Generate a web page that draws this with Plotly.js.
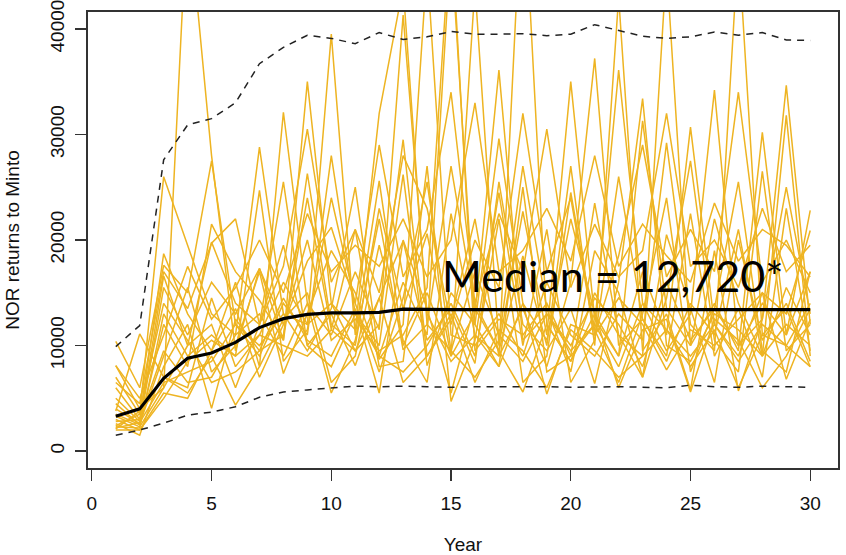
<!DOCTYPE html>
<html>
<head>
<meta charset="utf-8">
<script src="https://cdn.plot.ly/plotly-3.0.1.min.js"></script>
<style>html,body{margin:0;padding:0;background:#fff;}#chart{width:846px;height:555px;}</style>
</head>
<body>
<div id="chart"></div>
<script>
// Years 1..30
const years = Array.from({length: 30}, (_, i) => i + 1);

// Simulated NOR returns (approximate)
const sim01 = [10400, 6000, 17600, 15000, 27500, 12000, 9000, 14000, 11000, 28000, 13000, 9000, 16000, 11000, 48000, 12000, 8000, 14000, 10500, 22000, 13000, 9000, 17000, 11000, 30700, 12000, 9000, 15000, 13000, 20900];
const sim02 = [8100, 4000, 6000, 52000, 28000, 9500, 17300, 10500, 35000, 14000, 9500, 12000, 29500, 9000, 12500, 22000, 9000, 13500, 8000, 16000, 37200, 10000, 12500, 8500, 14000, 11000, 21000, 9000, 12000, 10000];
const sim03 = [7000, 3500, 26000, 19500, 13000, 11000, 28800, 13000, 12000, 39500, 11000, 25600, 10000, 15000, 9000, 13000, 36100, 10500, 13000, 9500, 12000, 36100, 14000, 9500, 13000, 34200, 10000, 12500, 34650, 12000];
const sim04 = [6000, 3000, 18700, 13000, 9500, 16000, 8000, 32100, 14000, 11000, 17000, 11500, 41300, 13000, 8500, 11000, 9000, 55000, 12000, 8500, 15000, 11000, 9000, 46000, 10000, 14000, 9500, 30200, 11000, 22800];
const sim05 = [5000, 2800, 16600, 10000, 19800, 14000, 12000, 19500, 10000, 13000, 8100, 14500, 19900, 10500, 13500, 8300, 25500, 12000, 9500, 13500, 6400, 16000, 33400, 10000, 8500, 13000, 11500, 9000, 31800, 9000];
const sim06 = [4500, 2500, 12000, 8000, 21500, 17000, 14300, 10500, 26300, 12000, 10000, 23000, 13500, 20600, 9000, 44000, 10000, 22700, 11000, 35000, 12500, 9000, 31300, 13500, 10000, 22000, 14000, 9000, 15500, 11000];
const sim07 = [4000, 2600, 9000, 15500, 7500, 10000, 17000, 7350, 13000, 19000, 15000, 8700, 12000, 46000, 11000, 10000, 13000, 9000, 16000, 11000, 9000, 13000, 10500, 29200, 12000, 9500, 48000, 11000, 13500, 8000];
const sim08 = [3800, 11100, 7000, 6000, 14500, 8000, 11000, 16000, 12000, 14000, 11500, 32000, 44000, 12000, 9500, 17000, 11000, 8500, 13000, 10000, 14500, 12000, 8000, 16000, 10500, 13500, 10000, 14000, 11000, 17000];
const sim09 = [3300, 2300, 6000, 10000, 12000, 6000, 12000, 25500, 10000, 8000, 13000, 10000, 26200, 8100, 15000, 12000, 29600, 14000, 5400, 12000, 11000, 14500, 12000, 7700, 11500, 10000, 12500, 15000, 6800, 12500];
const sim10 = [3000, 2000, 5500, 5000, 9500, 13500, 7000, 12000, 20000, 10500, 12500, 9500, 11000, 15500, 50000, 9500, 12500, 11000, 14000, 9000, 12000, 8000, 14000, 11500, 9000, 12000, 8500, 12000, 10000, 14000];
const sim11 = [2800, 3000, 9500, 6500, 7000, 11000, 13000, 9000, 14000, 5500, 10500, 22000, 9600, 12000, 27000, 13500, 9500, 18500, 10000, 27000, 10000, 43000, 9500, 13000, 5800, 19000, 5700, 12500, 25000, 13000];
const sim12 = [2600, 1500, 8000, 12000, 4050, 12500, 9500, 11000, 24000, 11500, 21000, 8000, 8500, 27000, 4700, 10500, 24500, 10000, 21000, 6500, 10500, 26000, 12500, 9000, 22500, 9000, 13500, 7000, 23000, 9500];
const sim13 = [2400, 3500, 7000, 5500, 9000, 4350, 8000, 12500, 15000, 6500, 9000, 19500, 10500, 6500, 22500, 11000, 8000, 25000, 7500, 9000, 23500, 11000, 7000, 14500, 27500, 10500, 7500, 26500, 9500, 12000];
const sim14 = [2300, 2200, 13000, 9000, 11000, 9000, 24700, 8500, 11500, 24000, 14000, 7500, 14500, 25500, 9500, 7000, 10500, 27000, 13500, 7500, 19000, 15000, 7000, 20500, 13500, 6500, 20000, 10500, 14000, 8500];
const sim15 = [2200, 2700, 6500, 7500, 8500, 12000, 10000, 13000, 9500, 13500, 25000, 9000, 7500, 10000, 14000, 9000, 22000, 6500, 9000, 24500, 11500, 6500, 13000, 24000, 7500, 13500, 25500, 9500, 7500, 17000];
const sim16 = [2100, 3800, 14000, 10500, 6500, 7500, 9500, 14500, 10500, 9000, 13500, 5500, 20000, 13500, 5500, 14000, 9500, 5600, 12000, 8500, 13000, 6000, 11500, 12500, 5600, 12500, 10500, 6000, 9000, 13500];
const sim17 = [2000, 2000, 5000, 8500, 10500, 9000, 11000, 10000, 9000, 11500, 9500, 14500, 6500, 9000, 13000, 6500, 11500, 9500, 6000, 11500, 9500, 7000, 9000, 11500, 8000, 11500, 6000, 11000, 10000, 8000];
const sim18 = [6500, 4500, 17000, 13500, 19700, 22000, 12000, 17500, 30500, 16000, 21000, 15000, 28000, 23000, 12000, 20000, 15500, 32000, 17000, 24000, 11000, 18500, 29000, 16500, 21000, 17000, 34000, 16000, 20000, 15000];
const sim19 = [3500, 2500, 15500, 11000, 16000, 13000, 17300, 12000, 18000, 21200, 14000, 29000, 16500, 21000, 34000, 14000, 22500, 17000, 30500, 15500, 21500, 16500, 19000, 32000, 17500, 20000, 15500, 23000, 17000, 19500];
const sim20 = [8100, 5000, 11000, 17500, 12500, 15500, 20000, 15000, 22500, 17000, 19500, 17500, 22000, 16500, 20000, 33000, 17000, 19000, 23000, 18000, 28000, 17500, 21500, 18500, 16000, 23500, 18000, 21000, 19500, 16500];

// Summary lines
const median = [3300, 4000, 6900, 8800, 9300, 10300, 11700, 12550, 12950, 13100, 13100, 13150, 13450, 13400, 13400, 13400, 13400, 13400, 13400, 13400, 13400, 13400, 13400, 13400, 13400, 13400, 13400, 13400, 13400, 13400];
const upper = [9900, 11900, 27600, 30900, 31500, 33000, 36700, 38250, 39400, 39100, 38600, 39650, 39000, 39250, 39750, 39500, 39500, 39550, 39350, 39500, 40400, 39850, 39300, 39100, 39250, 39700, 39400, 39650, 38950, 38900];
const lower = [1500, 2000, 2650, 3400, 3700, 4200, 5100, 5600, 5800, 6000, 6150, 6100, 6150, 6100, 6050, 6100, 6100, 6150, 6100, 6050, 6100, 6100, 6050, 6000, 6250, 6100, 6050, 6150, 6100, 6050];

const sims = [sim01, sim02, sim03, sim04, sim05, sim06, sim07, sim08, sim09, sim10,
              sim11, sim12, sim13, sim14, sim15, sim16, sim17, sim18, sim19, sim20];

const xTicks = [0, 5, 10, 15, 20, 25, 30];
const yTicks = [0, 10000, 20000, 30000, 40000];
const annoText = 'Median = 12,720*';

const gold = '#EEB422';
const traces = sims.map(s => ({
  x: years, y: s, type: 'scatter', mode: 'lines',
  line: {color: gold, width: 1.5}, hoverinfo: 'skip', showlegend: false
}));
traces.push({x: years, y: upper, type: 'scatter', mode: 'lines',
  line: {color: '#222', width: 1.5, dash: '7px,6px'}, showlegend: false});
traces.push({x: years, y: lower, type: 'scatter', mode: 'lines',
  line: {color: '#222', width: 1.5, dash: '7px,6px'}, showlegend: false});
traces.push({x: years, y: median, type: 'scatter', mode: 'lines',
  line: {color: '#000', width: 3.2}, showlegend: false});

const axFont = {family: 'Liberation Sans, Arial, sans-serif', size: 19, color: '#111'};

const layout = {
  width: 846, height: 555,
  margin: {l: 88, r: 8, t: 12, b: 87},
  paper_bgcolor: '#fff', plot_bgcolor: '#fff',
  showlegend: false,
  xaxis: {
    range: [-0.16, 31.16], tickvals: xTicks, ticktext: xTicks.map(String),
    ticks: 'outside', ticklen: 11, tickwidth: 1.3, tickcolor: '#333',
    showline: true, mirror: true, linecolor: '#333', linewidth: 1.6,
    showgrid: false, zeroline: false, tickfont: axFont,
    ticklabelstandoff: 7, ticklabeloverflow: 'allow',
    title: {text: 'Year', font: axFont, standoff: 28}
  },
  yaxis: {
    range: [-1600, 41600], tickvals: yTicks, ticktext: yTicks.map(String),
    ticks: 'outside', ticklen: 11, tickwidth: 1.3, tickcolor: '#333',
    showline: true, mirror: true, linecolor: '#333', linewidth: 1.6,
    showgrid: false, zeroline: false, tickfont: axFont, tickangle: -90,
    ticklabelstandoff: 4, ticklabeloverflow: 'allow',
    title: {text: 'NOR returns to Minto', font: axFont, standoff: 22}
  },
  annotations: [{
    text: annoText, xref: 'x', yref: 'y', x: 14.55, y: 16600,
    xanchor: 'left', yanchor: 'middle', showarrow: false,
    font: {family: 'Lato, Open Sans, sans-serif', size: 43, color: '#000'}
  }]
};

Plotly.newPlot('chart', traces, layout, {staticPlot: true, displayModeBar: false});
</script>
</body>
</html>
